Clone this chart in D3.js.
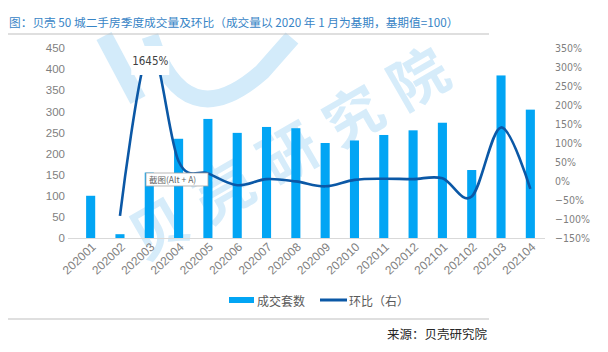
<!DOCTYPE html>
<html>
<head>
<meta charset="utf-8">
<script src="https://cdn.jsdelivr.net/npm/d3@7"></script>
<style>
  body { margin: 0; background: #fff; }
  svg { display: block; }
</style>
</head>
<body>
<svg id="chart" width="608" height="352"></svg>
<script>
// data
let months = ['202001', '202002', '202003', '202004', '202005', '202006', '202007', '202008',
              '202009', '202010', '202011', '202012', '202101', '202102', '202103', '202104'];
let volume = [100, 9, 155, 235, 282, 249, 263, 260, 225, 231, 244, 255, 273, 161, 385, 304];
let mom = [null, -0.92, 16.45, 0.52, 0.20, -0.11, 0.05, -0.01, -0.14, 0.03, 0.06, 0.05, 0.07, -0.41, 1.41, -0.21];
let leftTicks = [0, 50, 100, 150, 200, 250, 300, 350, 400, 450];
let rightTicks = [-1.5, -1, -0.5, 0, 0.5, 1, 1.5, 2, 2.5, 3, 3.5];

let barColor = '#02a5f4', lineColor = '#0b58a6';
let cjk = '"Noto Sans CJK SC", "Noto Sans", sans-serif';
let narrow = '"DejaVu Sans Condensed", "Liberation Sans Narrow", sans-serif';

let svg = d3.select('#chart');
let plotL = 76, plotR = 545, plotT = 48, plotB = 238;

// watermark
let wm = svg.append('g').attr('fill', 'none').attr('stroke', '#d3ebfa').attr('stroke-width', 17);
wm.append('path').attr('d', 'M104 36 L138 100');
wm.append('path').attr('d', 'M150 36 Q 185 140 262 72 L 292 38');
svg.append('text')
    .attr('transform', 'translate(294,146) rotate(-30)')
    .attr('text-anchor', 'middle').attr('dominant-baseline', 'central')
    .attr('font-family', cjk).attr('font-size', 58).attr('font-weight', 700)
    .attr('letter-spacing', 17)
    .attr('fill', '#d6ecfa')
    .text('贝壳研究院');

// title
svg.append('text')
    .attr('x', 9).attr('y', 21).attr('dominant-baseline', 'central')
    .attr('font-family', cjk).attr('font-size', 11.7).attr('fill', '#3784c6')
    .text('图：贝壳 50 城二手房季度成交量及环比（成交量以 2020 年 1 月为基期，基期值=100）');
svg.append('line').attr('x1', 8).attr('x2', 489).attr('y1', 34).attr('y2', 34)
    .attr('stroke', '#bfbfbf').attr('stroke-width', 1);

let x = d3.scaleBand().domain(months).range([plotL, plotR]).paddingInner(0.69).paddingOuter(0.345);
let yL = d3.scaleLinear().domain([0, 450]).range([plotB, plotT]);
let yR = d3.scaleLinear().domain([-1.5, 3.5]).range([plotB, plotT]).clamp(true);

// left axis
let axL = svg.append('g').attr('transform', 'translate(' + (plotL - 11) + ',0)')
    .call(d3.axisLeft(yL).tickValues(leftTicks).tickSize(0).tickPadding(0));
axL.select('.domain').remove();
axL.selectAll('text').attr('font-family', '"Liberation Sans", sans-serif').attr('font-size', 11.5).attr('fill', '#7f7f7f');

// right axis
let axR = svg.append('g').attr('transform', 'translate(' + (plotR + 10) + ',0)')
    .call(d3.axisRight(yR).tickValues(rightTicks).tickSize(0).tickPadding(0).tickFormat(d3.format('.0%')));
axR.select('.domain').remove();
axR.selectAll('text').attr('font-family', narrow).attr('font-size', 10.5).attr('fill', '#7f7f7f');

// bars
svg.append('g').selectAll('rect')
    .data(volume)
    .enter()
    .append('rect')
    .attr('x', function(d, i) { return x(months[i]); })
    .attr('width', x.bandwidth())
    .attr('y', function(d) { return yL(d); })
    .attr('height', function(d) { return yL(0) - yL(d); })
    .attr('fill', barColor);

// baseline
svg.append('line').attr('x1', plotL - 8).attr('x2', plotR).attr('y1', plotB + 0.5).attr('y2', plotB + 0.5)
    .attr('stroke', '#d9d9d9').attr('stroke-width', 1);

// x labels
let axX = svg.append('g').attr('transform', 'translate(0,' + plotB + ')')
    .call(d3.axisBottom(x).tickSize(0).tickPadding(0));
axX.select('.domain').remove();
axX.selectAll('text')
    .attr('font-family', '"Liberation Sans", sans-serif').attr('font-size', 12).attr('fill', '#7f7f7f')
    .attr('text-anchor', 'end').attr('dy', 0).attr('y', 0)
    .attr('transform', 'translate(6,10) rotate(-43)');

// line, clipped to plot area
svg.append('clipPath').attr('id', 'plotclip').append('rect')
    .attr('x', plotL).attr('y', plotT).attr('width', plotR - plotL).attr('height', plotB - plotT);
let line = d3.line()
    .defined(function(d) { return d != null; })
    .x(function(d, i) { return x(months[i]) + x.bandwidth() / 2; })
    .y(function(d) { return yR(d); })
    .curve(d3.curveCardinal.tension(0));
svg.append('path')
    .datum(mom)
    .attr('clip-path', 'url(#plotclip)')
    .attr('d', line)
    .attr('fill', 'none').attr('stroke', lineColor).attr('stroke-width', 2.6);

// peak label
let px = x('202003') + x.bandwidth() / 2;
svg.append('rect').attr('x', px - 18).attr('y', 46).attr('width', 38).attr('height', 29).attr('fill', '#fff');
svg.append('text').attr('x', px + 1).attr('y', 65).attr('text-anchor', 'middle')
    .attr('font-family', narrow).attr('font-size', 11.5).attr('fill', '#404040')
    .text(d3.format('.0%')(mom[2]));

// screenshot tooltip artefact
let tip = svg.append('g').attr('transform', 'translate(146,173)');
tip.append('rect').attr('width', 62).attr('height', 13).attr('fill', '#fff').attr('stroke', '#a6a6a6').attr('stroke-width', 0.8);
tip.append('text').attr('x', 3).attr('y', 9.5).attr('font-family', cjk).attr('font-size', 8.5).attr('fill', '#666')
    .text('截图(Alt + A)');

// legend
let lg = svg.append('g').attr('font-family', cjk).attr('font-size', 12).attr('fill', '#595959');
lg.append('rect').attr('x', 229).attr('y', 297).attr('width', 25).attr('height', 6).attr('fill', barColor);
lg.append('text').attr('x', 257).attr('y', 300).attr('dominant-baseline', 'central').text('成交套数');
lg.append('line').attr('x1', 320).attr('x2', 347).attr('y1', 300).attr('y2', 300).attr('stroke', lineColor).attr('stroke-width', 3);
lg.append('text').attr('x', 349).attr('y', 300).attr('dominant-baseline', 'central').text('环比（右）');

// footer
svg.append('line').attr('x1', 8).attr('x2', 489).attr('y1', 319).attr('y2', 319)
    .attr('stroke', '#bfbfbf').attr('stroke-width', 1);
svg.append('text').attr('x', 487).attr('y', 333).attr('text-anchor', 'end').attr('dominant-baseline', 'central')
    .attr('font-family', cjk).attr('font-size', 12.5).attr('fill', '#262626')
    .text('来源：贝壳研究院');
</script>
</body>
</html>
